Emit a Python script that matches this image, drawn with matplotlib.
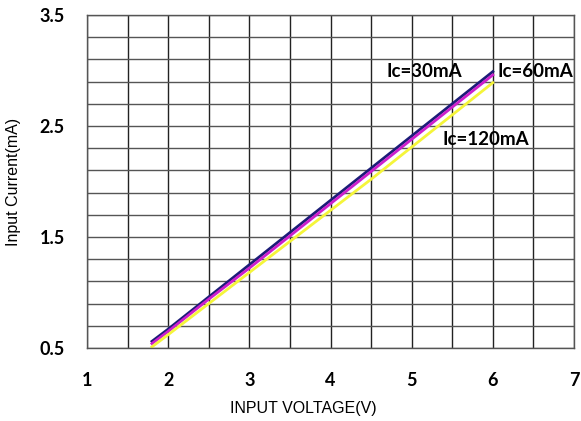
import matplotlib
matplotlib.use('Agg')
import matplotlib.pyplot as plt
import numpy as np

voltage = [1.8, 2.0, 2.5, 3.0, 3.5, 4.0, 4.5, 5.0, 5.5, 6.0]
i_30mA = [0.56, 0.67, 0.96, 1.25, 1.54, 1.83, 2.12, 2.41, 2.70, 2.99]
i_60mA = [0.54, 0.65, 0.94, 1.22, 1.51, 1.80, 2.09, 2.38, 2.67, 2.96]
i_120mA = [0.51, 0.62, 0.90, 1.18, 1.46, 1.74, 2.02, 2.31, 2.60, 2.89]

xticks = [1, 2, 3, 4, 5, 6, 7]
yticks = [0.5, 1.5, 2.5, 3.5]

fig = plt.figure(figsize=(5.81, 4.21), dpi=100)
ax = fig.add_axes([87/581, 1-348/421, (574-87)/581, (348-15)/421])

# grid every 0.5 V and 0.2 mA
ax.set_xticks(np.arange(1, 7.01, 0.5), minor=True)
ax.set_yticks(np.arange(0.5, 3.51, 0.2), minor=True)
ax.grid(True, which='both', axis='x', color='#222222', lw=1.0)
ax.grid(True, which='both', axis='y', color='#555555', lw=1.0)
ax.set_axisbelow(True)

ax.plot(voltage, i_30mA, color='#1c1c78', lw=2)
ax.plot(voltage, i_60mA, color='#cc1fcc', lw=2)
ax.plot(voltage, i_120mA, color='#f5f53a', lw=2)

ax.set_xlim(1, 7)
ax.set_ylim(0.5, 3.5)
ax.set_xticks(xticks)
ax.set_yticks(yticks)
ax.set_xticklabels([str(v) for v in xticks], fontfamily='Lato', fontweight='bold', fontsize=13)
ax.set_yticklabels([str(v) for v in yticks], fontfamily='Lato', fontweight='bold', fontsize=13)
ax.tick_params(which='both', length=0)
ax.tick_params(axis='x', pad=17)
ax.tick_params(axis='y', pad=16)

for s in ax.spines.values():
    s.set_color('#555555')
    s.set_linewidth(1.0)

txt = dict(fontfamily='Lato', fontweight='bold', fontsize=13.5, va='center', ha='left')
ax.text(4.69, 2.99, 'Ic=30mA', **txt)
ax.text(6.06, 2.99, 'Ic=60mA', **txt)
ax.text(5.38, 2.38, 'Ic=120mA', **txt)

ax.set_xlabel('INPUT VOLTAGE(V)', fontfamily='Liberation Sans', fontsize=11.5)
ax.xaxis.set_label_coords(0.444, -0.16)
ax.set_ylabel('Input Current(mA)', fontfamily='Liberation Sans', fontsize=11.5)
ax.yaxis.set_label_coords(-0.135, 0.5)

fig.savefig('out.png', dpi=100)
